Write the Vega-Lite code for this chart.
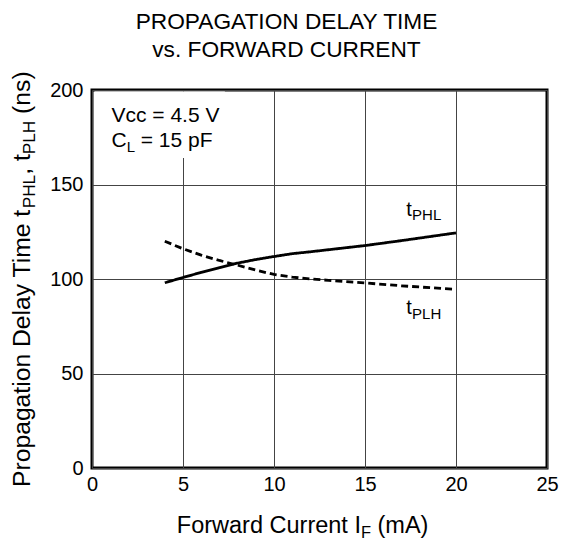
{
  "$schema": "https://vega.github.io/schema/vega-lite/v6.json",
  "width": 455,
  "height": 378,
  "autosize": {"type": "none"},
  "padding": {"left": 92, "top": 90, "right": 19, "bottom": 73},
  "background": "white",
  "title": {
    "text": ["PROPAGATION DELAY TIME", "vs. FORWARD CURRENT"],
    "font": "Liberation Sans",
    "fontSize": 22.7,
    "fontWeight": "normal",
    "lineHeight": 28,
    "anchor": "middle",
    "frame": "group",
    "dx": -33,
    "offset": 10,
    "color": "black"
  },
  "config": {
    "view": {"stroke": "black", "strokeWidth": 3},
    "axis": {
      "labelFont": "Liberation Sans",
      "labelFontSize": 20,
      "labelColor": "black",
      "labelFlush": false,
      "labelOverlap": false,
      "ticks": false,
      "domain": false,
      "gridColor": "#444444",
      "gridWidth": 1,
      "gridOpacity": 1
    },
    "text": {"font": "Liberation Sans", "color": "black"}
  },
  "layer": [
    {
      "data": {
        "values": [
          {"series": "tPHL", "current": 4, "delay": 98},
          {"series": "tPHL", "current": 5, "delay": 100.8},
          {"series": "tPHL", "current": 6, "delay": 103.5},
          {"series": "tPHL", "current": 7, "delay": 106},
          {"series": "tPHL", "current": 8, "delay": 108.4},
          {"series": "tPHL", "current": 9, "delay": 110.3},
          {"series": "tPHL", "current": 10, "delay": 111.9},
          {"series": "tPHL", "current": 11, "delay": 113.4},
          {"series": "tPHL", "current": 12, "delay": 114.4},
          {"series": "tPHL", "current": 14, "delay": 116.6},
          {"series": "tPHL", "current": 15, "delay": 117.7},
          {"series": "tPHL", "current": 17, "delay": 120.3},
          {"series": "tPHL", "current": 20, "delay": 124.4},
          {"series": "tPLH", "current": 4, "delay": 120},
          {"series": "tPLH", "current": 5, "delay": 116},
          {"series": "tPLH", "current": 6, "delay": 112.6},
          {"series": "tPLH", "current": 7, "delay": 109.8},
          {"series": "tPLH", "current": 8, "delay": 107.3},
          {"series": "tPLH", "current": 9, "delay": 104.7},
          {"series": "tPLH", "current": 10, "delay": 102.4},
          {"series": "tPLH", "current": 11, "delay": 101},
          {"series": "tPLH", "current": 12, "delay": 100},
          {"series": "tPLH", "current": 13, "delay": 99.3},
          {"series": "tPLH", "current": 15, "delay": 97.9},
          {"series": "tPLH", "current": 17, "delay": 96.4},
          {"series": "tPLH", "current": 20, "delay": 94.5}
        ]
      },
      "mark": {"type": "line", "stroke": "black", "strokeWidth": 2.8},
      "encoding": {
        "x": {
          "field": "current",
          "type": "quantitative",
          "scale": {"domain": [0, 25], "nice": false, "zero": false},
          "axis": {"values": [0, 5, 10, 15, 20, 25], "title": null, "grid": true, "labelPadding": 6}
        },
        "y": {
          "field": "delay",
          "type": "quantitative",
          "scale": {"domain": [0, 200], "nice": false, "zero": false},
          "axis": {"values": [0, 50, 100, 150, 200], "title": null, "grid": true, "labelPadding": 9}
        },
        "strokeDash": {
          "field": "series",
          "type": "nominal",
          "scale": {"domain": ["tPHL", "tPLH"], "range": [[1, 0], [7, 4]]},
          "legend": null
        },
        "detail": {"field": "series"}
      }
    },
    {
      "data": {"values": [{}]},
      "mark": {"type": "rect", "fill": "white"},
      "encoding": {
        "x": {"datum": 0.15, "type": "quantitative"},
        "x2": {"datum": 7.3},
        "y": {"datum": 164, "type": "quantitative"},
        "y2": {"datum": 199.2}
      }
    },
    {
      "data": {"values": [{}]},
      "mark": {"type": "text", "text": "Vcc = 4.5 V", "fontSize": 21, "align": "left", "baseline": "alphabetic", "clip": false},
      "encoding": {"x": {"datum": 1.07, "type": "quantitative"}, "y": {"datum": 183.2, "type": "quantitative"}}
    },
    {
      "data": {"values": [{}]},
      "mark": {"type": "text", "text": "C", "fontSize": 21, "align": "left", "baseline": "alphabetic", "clip": false},
      "encoding": {"x": {"datum": 1.07, "type": "quantitative"}, "y": {"datum": 170, "type": "quantitative"}}
    },
    {
      "data": {"values": [{}]},
      "mark": {"type": "text", "text": "L", "fontSize": 15, "dx": 15.2, "dy": 5, "align": "left", "baseline": "alphabetic", "clip": false},
      "encoding": {"x": {"datum": 1.07, "type": "quantitative"}, "y": {"datum": 170, "type": "quantitative"}}
    },
    {
      "data": {"values": [{}]},
      "mark": {"type": "text", "text": "= 15 pF", "fontSize": 21, "dx": 29.3, "align": "left", "baseline": "alphabetic", "clip": false},
      "encoding": {"x": {"datum": 1.07, "type": "quantitative"}, "y": {"datum": 170, "type": "quantitative"}}
    },
    {
      "data": {"values": [{}]},
      "mark": {"type": "text", "text": "t", "fontSize": 20, "align": "left", "baseline": "alphabetic", "clip": false},
      "encoding": {"x": {"datum": 17.27, "type": "quantitative"}, "y": {"datum": 133.3, "type": "quantitative"}}
    },
    {
      "data": {"values": [{}]},
      "mark": {"type": "text", "text": "PHL", "fontSize": 15, "dx": 5.8, "dy": 4, "align": "left", "baseline": "alphabetic", "clip": false},
      "encoding": {"x": {"datum": 17.27, "type": "quantitative"}, "y": {"datum": 133.3, "type": "quantitative"}}
    },
    {
      "data": {"values": [{}]},
      "mark": {"type": "text", "text": "t", "fontSize": 20, "align": "left", "baseline": "alphabetic", "clip": false},
      "encoding": {"x": {"datum": 17.27, "type": "quantitative"}, "y": {"datum": 81.3, "type": "quantitative"}}
    },
    {
      "data": {"values": [{}]},
      "mark": {"type": "text", "text": "PLH", "fontSize": 15, "dx": 5.8, "dy": 5, "align": "left", "baseline": "alphabetic", "clip": false},
      "encoding": {"x": {"datum": 17.27, "type": "quantitative"}, "y": {"datum": 81.3, "type": "quantitative"}}
    },
    {
      "data": {"values": [{}]},
      "mark": {"type": "text", "text": "Forward Current I", "fontSize": 23.5, "align": "left", "baseline": "alphabetic", "clip": false},
      "encoding": {"x": {"datum": 4.66, "type": "quantitative"}, "y": {"datum": -34.4, "type": "quantitative"}}
    },
    {
      "data": {"values": [{}]},
      "mark": {"type": "text", "text": "F", "fontSize": 16.5, "dx": 184.1, "dy": 5, "align": "left", "baseline": "alphabetic", "clip": false},
      "encoding": {"x": {"datum": 4.66, "type": "quantitative"}, "y": {"datum": -34.4, "type": "quantitative"}}
    },
    {
      "data": {"values": [{}]},
      "mark": {"type": "text", "text": "(mA)", "fontSize": 23.5, "dx": 200.7, "align": "left", "baseline": "alphabetic", "clip": false},
      "encoding": {"x": {"datum": 4.66, "type": "quantitative"}, "y": {"datum": -34.4, "type": "quantitative"}}
    },
    {
      "data": {"values": [{}]},
      "mark": {"type": "text", "text": "Propagation Delay Time t", "fontSize": 24.7, "angle": 270, "align": "left", "baseline": "alphabetic", "clip": false},
      "encoding": {"x": {"datum": -3.42, "type": "quantitative"}, "y": {"datum": -10.05, "type": "quantitative"}}
    },
    {
      "data": {"values": [{}]},
      "mark": {"type": "text", "text": "PHL", "fontSize": 17.2, "dx": 278.7, "dy": 5, "angle": 270, "align": "left", "baseline": "alphabetic", "clip": false},
      "encoding": {"x": {"datum": -3.42, "type": "quantitative"}, "y": {"datum": -10.05, "type": "quantitative"}}
    },
    {
      "data": {"values": [{}]},
      "mark": {"type": "text", "text": ", t", "fontSize": 24.7, "dx": 312.2, "angle": 270, "align": "left", "baseline": "alphabetic", "clip": false},
      "encoding": {"x": {"datum": -3.42, "type": "quantitative"}, "y": {"datum": -10.05, "type": "quantitative"}}
    },
    {
      "data": {"values": [{}]},
      "mark": {"type": "text", "text": "PLH", "fontSize": 17.2, "dx": 332.8, "dy": 5, "angle": 270, "align": "left", "baseline": "alphabetic", "clip": false},
      "encoding": {"x": {"datum": -3.42, "type": "quantitative"}, "y": {"datum": -10.05, "type": "quantitative"}}
    },
    {
      "data": {"values": [{}]},
      "mark": {"type": "text", "text": "(ns)", "fontSize": 24.7, "dx": 373.1, "angle": 270, "align": "left", "baseline": "alphabetic", "clip": false},
      "encoding": {"x": {"datum": -3.42, "type": "quantitative"}, "y": {"datum": -10.05, "type": "quantitative"}}
    }
  ]
}
